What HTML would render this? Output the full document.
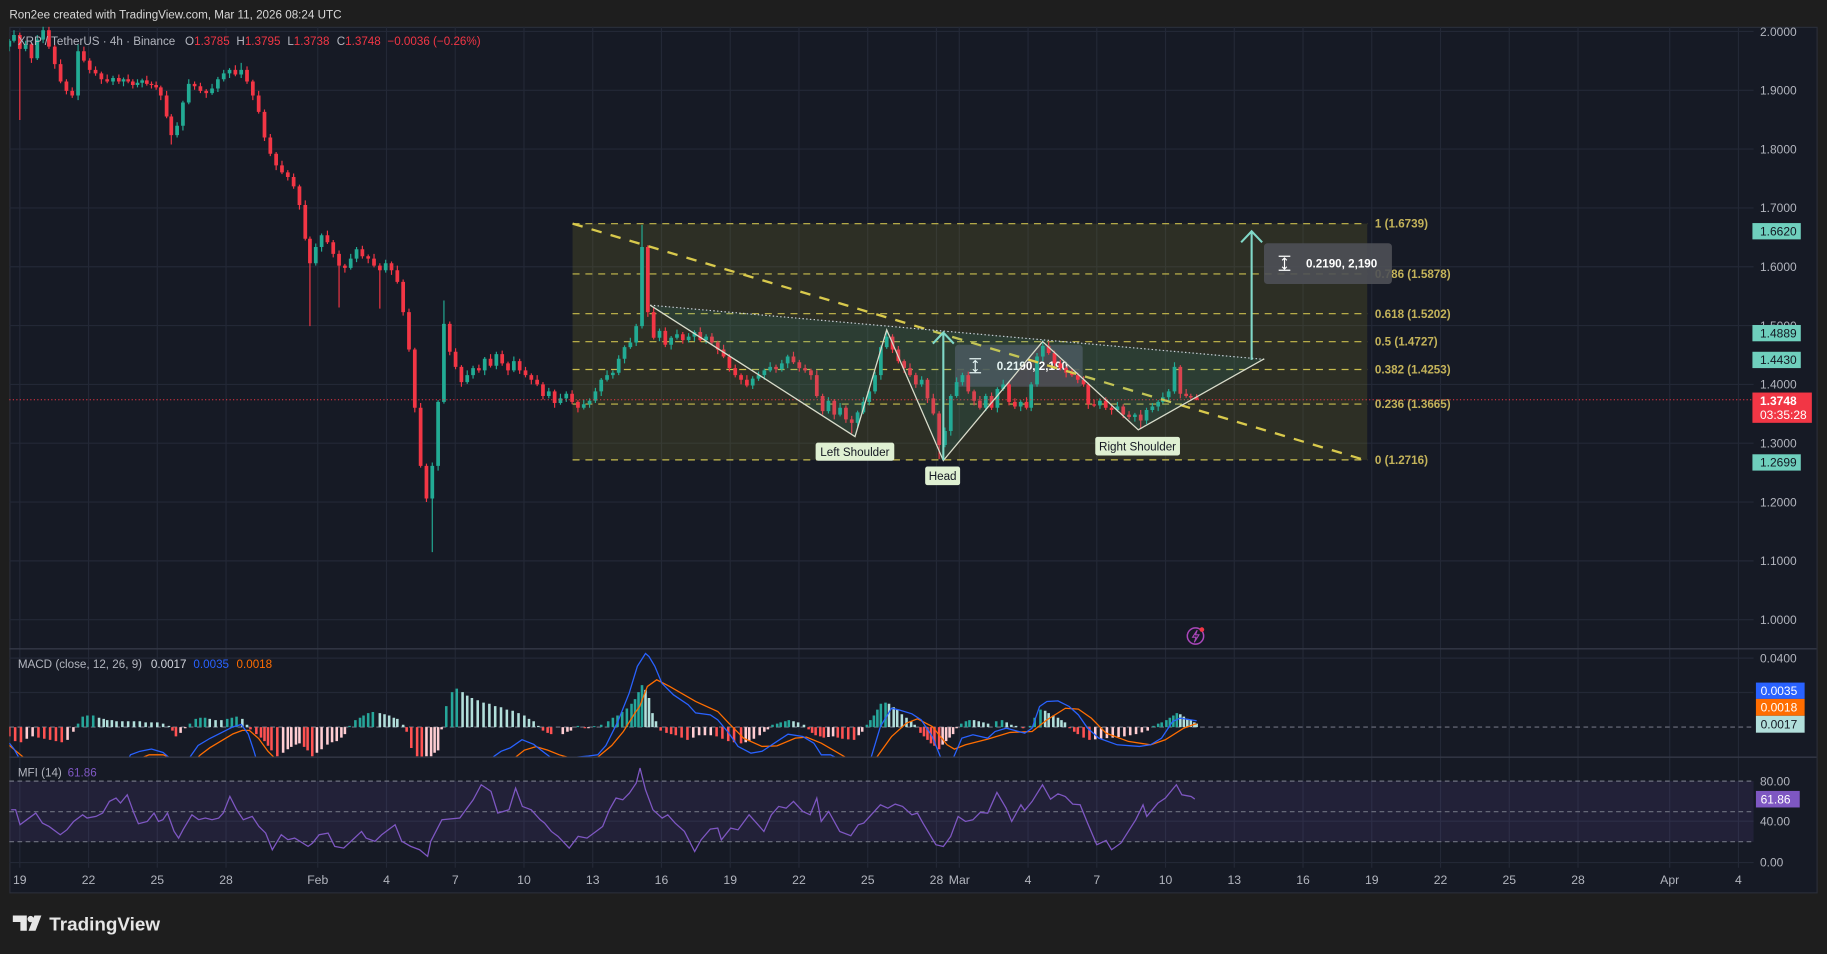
<!DOCTYPE html>
<html><head><meta charset="utf-8"><style>
html,body{margin:0;padding:0;background:#1e1e1e;overflow:hidden;width:1827px;height:954px}
svg{display:block}
text{font-family:"Liberation Sans",Arial,sans-serif}
</style></head><body>
<svg xmlns="http://www.w3.org/2000/svg" width="1827" height="954" viewBox="0 0 1568 819" preserveAspectRatio="none">
<defs>
<clipPath id="cm"><rect x="8" y="23" width="1497" height="534"/></clipPath>
<clipPath id="cd"><rect x="8" y="557.5" width="1497" height="92"/></clipPath>
<clipPath id="cf"><rect x="8" y="650.5" width="1497" height="95"/></clipPath>
</defs>
<rect width="1568" height="819" fill="#1e1e1e"/>
<text x="8" y="15.7" font-size="10" fill="#d8d8d8">Ron2ee created with TradingView.com, Mar 11, 2026 08:24 UTC</text>
<rect x="8.5" y="23.5" width="1551" height="743" fill="#161a25" stroke="#2a2e39"/>
<!-- grid -->
<path stroke="#232836" stroke-width="1" fill="none" d="M8 27H1505M8 77.5H1505M8 128H1505M8 178.5H1505M8 229H1505M8 279.5H1505M8 330H1505M8 380.5H1505M8 431H1505M8 481.5H1505M8 532H1505M8 565H1505M8 594.5H1505M8 705H1505M8 740.5H1505
M17 23V745M76 23V745M135 23V745M194 23V745M272.7 23V745M331.7 23V745M390.7 23V745M449.7 23V745M508.7 23V745M567.7 23V745M626.7 23V745M685.7 23V745M744.7 23V745M803.7 23V745M823.3 23V745M882.3 23V745M941.3 23V745M1000.3 23V745M1059.3 23V745M1118.3 23V745M1177.3 23V745M1236.3 23V745M1295.3 23V745M1354.3 23V745M1433 23V745M1492 23V745"/>
<!-- MFI band -->
<rect x="8" y="670.6" width="1497" height="52" fill="rgba(126,87,194,0.12)"/>
<g stroke="#6f7280" stroke-width="1" stroke-dasharray="4 3">
<line x1="8" x2="1505" y1="670.6" y2="670.6"/>
<line x1="8" x2="1505" y1="696.8" y2="696.8"/>
<line x1="8" x2="1505" y1="722.6" y2="722.6"/>
<line x1="8" x2="1505" y1="624.2" y2="624.2"/>
</g>
<line x1="8" x2="1559" y1="557" y2="557" stroke="#343846" stroke-width="1.2"/>
<line x1="8" x2="1559" y1="650" y2="650" stroke="#343846" stroke-width="1.2"/>

<!-- Fib box -->
<rect x="491.4" y="192" width="682" height="202.8" fill="rgba(150,145,40,0.18)"/>
<g stroke="#c9bd4e" stroke-width="1" stroke-dasharray="6 5">
<line x1="491.4" x2="1173.5" y1="192" y2="192"/>
<line x1="491.4" x2="1173.5" y1="235.2" y2="235.2"/>
<line x1="491.4" x2="1173.5" y1="269.3" y2="269.3"/>
<line x1="491.4" x2="1173.5" y1="293.3" y2="293.3"/>
<line x1="491.4" x2="1173.5" y1="317.2" y2="317.2"/>
<line x1="491.4" x2="1173.5" y1="346.9" y2="346.9"/>
<line x1="491.4" x2="1173.5" y1="394.8" y2="394.8"/>
</g>
<g font-size="10" font-weight="bold" fill="#c4b35a">
<text x="1180" y="195.5">1 (1.6739)</text>
<text x="1180" y="238.7">0.786 (1.5878)</text>
<text x="1180" y="272.8">0.618 (1.5202)</text>
<text x="1180" y="296.8">0.5 (1.4727)</text>
<text x="1180" y="320.7">0.382 (1.4253)</text>
<text x="1180" y="350.4">0.236 (1.3665)</text>
<text x="1180" y="398.3">0 (1.2716)</text>
</g>
<!-- tooltips -->
<rect x="819.6" y="296" width="109.6" height="36" rx="3" fill="rgba(78,80,86,0.88)"/>
<rect x="1084.8" y="208.8" width="109.8" height="35" rx="3" fill="rgba(78,80,86,0.9)"/>
<g stroke="#ffffff" stroke-width="1" fill="none">
<path d="M832 308h10M832 320h10M837 309.5v9.5M835 311.5l2-2 2 2M835 317l2 2 2-2"/>
<path d="M1097.4 220h10M1097.4 232h10M1102.4 221.5v9.5M1100.4 223.5l2-2 2 2M1100.4 229l2 2 2-2"/>
</g>
<text x="855.4" y="317.5" font-size="10" font-weight="bold" fill="#ffffff">0.2190, 2,190</text>
<text x="1120.9" y="229.5" font-size="10" font-weight="bold" fill="#ffffff">0.2190, 2,190</text>

<!-- candles -->
<g clip-path="url(#cm)" fill="none">
<path stroke="#22ab94" stroke-width="1" d="M8 33.5V44M12 26V36.5M22 35V44M32 30V51.5M37 22V37M67 38V86M97 65V73M106 66.5V74M118 68V75M122 67.5V75M152 105V118M157 86.5V112M162 68V89.5M182 72V81.5M187 66V79M192 60V70M197 58.5V67M207 54V67M271 209V228M276 200.5V216M301 218V231.5M306 212V225M331 223V234M371 397V474M376 343.5V404M381 258V346.5M401 318V329.5M406 314V325M416 306.5V322M426 302V317M441 306V319.5M471 333V342M481 338V347.5M486 336V345M501 343V351.5M506 342V350M511 333V346M516 324.5V340M521 318V327.5M526 318V325M531 305V322M536 296.5V312M541 290V299.5M546 278V297M551 193V282M566 282V293M576 288.5V300M581 283V291.5M591 286V294M596 283.5V293M606 287V295M646 323V334M651 319V327M656 316.5V326M661 311V319.5M671 309V319M676 304.5V316M711 341V355M721 346V357.5M736 352.5V367M741 341V355.5M746 334V348M751 319V338M756 296.5V326M761 283V299.5M791 323V332M811 367V384M816 338.5V374M821 324V341.5M826 320V331M846 338V353M856 332.5V354M861 326V335.5M876 343.5V353M885 328V353M890 303V332M895 292V310M944 342V351M959 345V353.5M974 354.5V362M984 350V364M989 346V354M994 343.5V353M998 337V346.5M1003 334V344M1008 311V338"/>
<path stroke="#22ab94" stroke-width="3.2" d="M8 35V40M12 30V35M22 38V42M32 34V50M37 26V34M67 44V82M97 67V70M106 68V70M118 71V73M122 69V71M152 108V116M157 88V108M162 72V88M182 76V80M187 68V76M192 63V68M197 60V63M207 60V64M271 212V226M276 202V212M301 222V230M306 214V222M331 226V232M371 400V428M376 345V400M381 278V345M401 322V328M406 316V322M416 308V318M426 304V314M441 310V318M471 336V340M481 342V346M486 338V342M501 347V350M506 344V347M511 336V344M516 326V336M521 322V326M526 320V322M531 308V320M536 298V308M541 294V298M546 280V294M551 212V280M566 284V290M576 290V296M581 287V290M591 289V292M596 285V289M606 289V292M646 325V331M651 322V325M656 318V322M661 315V318M671 312V317M676 306V312M711 344V353M721 350V356M736 354V363M741 345V354M746 336V345M751 322V336M756 298V322M761 289V298M791 326V330M811 370V382M816 340V370M821 328V340M826 322V328M846 340V350M856 334V350M861 330V334M876 345V349M885 330V350M890 306V330M895 297V306M944 344V348M959 349V352M974 356V358M984 352V361M989 349V352M994 345V349M998 341V345M1003 336V341M1008 315V336"/>
<path stroke="#f23645" stroke-width="1" d="M17 28V103M27 36.5V54M42 23V42M47 38.5V59M52 51V71.5M57 68V81M62 75V84M72 40V53.5M77 50V63M82 57V65M87 61.5V72M92 64V71.5M102 64V72M110 64V71.5M114 68V76M126 65V73.5M130 70V76M134 70V77M138 73.5V86M143 78V101.5M147 98V124M167 70V77M172 71V80M177 76.5V84M202 56V65.5M212 57V72M217 68.5V86M222 78V97.5M227 94V121M232 115V134M237 130.5V146M242 138V149.5M247 146V155M252 149V162M257 158.5V180M262 172V206.5M266 203V280M281 198V209.5M286 206V221M291 215V264M296 226.5V234M311 211V222M316 218.5V226M321 218V229.5M326 226V265M336 224.5V236M341 228V243.5M346 240V271M351 265V302M356 298.5V354M361 346V401.5M366 398V431M386 276V305M391 299V317M396 313.5V332M411 313V320M421 304V315.5M431 301V314M436 310.5V322M446 308V321M451 315V324M456 320.5V330M461 322V331.5M466 328V343M476 334.5V350M491 335V347M496 343.5V354M556 210.5V272M561 264V291.5M571 281V298M586 285V295M601 281V293.5M611 286V296M616 292.5V304M621 296V307.5M626 304V319M631 313V324M636 320.5V330M641 322V332.5M666 313V320M681 302V312.5M686 309V319M691 313V320M696 316.5V326M701 318V341.5M706 338V356M716 342.5V360M726 348V363M731 357V372M766 287V303M771 297V312M776 308.5V320M781 312V323.5M786 320V333M796 324.5V346M801 338V356.5M806 353V394M831 319V338M836 334.5V348M841 340V351.5M851 337V352M866 328V348M871 342V351M881 341V351.5M900 293V304.5M905 301V315M910 309V318M915 314.5V324M920 316V323.5M925 320V329M930 323V332M934 328.5V351M939 343V349.5M949 341V352M954 348.5V356M964 347V359M969 353V360M979 352V368M1013 313.5V342M1018 334V341.5M1022 338V344M1027 338.5V343.6"/>
<path stroke="#f23645" stroke-width="3.2" d="M17 30V42M27 38V50M42 26V40M47 40V55M52 55V70M57 70V78M62 78V82M72 44V52M77 52V60M82 60V63M87 63V68M92 68V70M102 67V70M110 68V70M114 70V73M126 69V72M130 72V73M134 73V75M138 75V82M143 82V100M147 100V116M167 72V74M172 74V78M177 78V80M202 60V64M212 60V70M217 70V82M222 82V96M227 96V118M232 118V132M237 132V142M242 142V148M247 148V152M252 152V160M257 160V176M262 176V205M266 205V226M281 202V208M286 208V218M291 218V228M296 228V230M311 214V220M316 220V222M321 222V228M326 228V232M336 226V232M341 232V242M346 242V268M351 268V300M356 300V350M361 350V400M366 400V428M386 278V302M391 302V315M396 315V328M411 316V318M421 308V314M431 304V312M436 312V318M446 310V318M451 318V322M456 322V326M461 326V330M466 330V340M476 336V346M491 338V345M496 345V350M556 212V268M561 268V290M571 284V296M586 287V292M601 285V292M611 289V294M616 294V300M621 300V306M626 306V316M631 316V322M636 322V326M641 326V331M666 315V317M681 306V311M686 311V316M691 316V318M696 318V322M701 322V340M706 340V353M716 344V356M726 350V360M731 360V363M766 289V300M771 300V310M776 310V316M781 316V322M786 322V330M796 326V342M801 342V355M806 355V382M831 322V336M836 336V344M841 344V350M851 340V350M866 330V345M871 345V349M881 345V350M900 297V303M905 303V312M910 312V316M915 316V320M920 320V322M925 322V326M930 326V330M934 330V347M939 347V348.2M949 344V350M954 350V352M964 349V356M969 356V358M979 356V361M1013 315V338M1018 338V340M1022 340V341.2M1027 340.9V343"/>
</g>

<!-- current price line -->
<line x1="8" x2="1505" y1="343.2" y2="343.2" stroke="#f23645" stroke-width="0.8" stroke-dasharray="1 2"/>
<!-- trend line -->
<line x1="491.4" y1="192" x2="1170" y2="394.5" stroke="#d8c94c" stroke-width="2" stroke-dasharray="9 8"/>
<!-- pattern -->
<polygon points="558,262 733.8,374.8 761,283.2 809.6,395.4 894.8,293.2 976.9,369 1085,308" fill="rgba(38,166,154,0.12)"/>
<line x1="558" y1="262" x2="1085" y2="308.5" stroke="#cfd3dc" stroke-width="1" stroke-dasharray="1.2 2"/>
<polyline points="558,262 733.8,374.8 761,283.2 809.6,395.4 894.8,293.2 976.9,369 1085,308" fill="none" stroke="#d9dccb" stroke-width="1.1"/>
<!-- arrows -->
<g stroke="#80d8c8" stroke-width="1.8" fill="none">
<path d="M809.6 395V286M800.6 295l9-9.5 9 9.5"/>
<path d="M1074.2 309V198.5M1065.2 208l9-9.5 9 9.5"/>
</g>
<!-- labels -->
<rect x="700" y="380" width="67.5" height="15.5" rx="2" fill="#dff0d2"/>
<text x="733.7" y="391.3" font-size="10" text-anchor="middle" fill="#131722">Left Shoulder</text>
<rect x="794" y="400.5" width="30" height="16" rx="2" fill="#dff0d2"/>
<text x="809" y="412" font-size="10" text-anchor="middle" fill="#131722">Head</text>
<rect x="940" y="375" width="72.7" height="16" rx="2" fill="#dff0d2"/>
<text x="976.3" y="386.6" font-size="10" text-anchor="middle" fill="#131722">Right Shoulder</text>

<!-- header -->
<g font-size="10">
<text x="15.3" y="38.5" fill="#b2b5be">XRP / TetherUS · 4h · Binance</text>
<text x="158.8" y="38.5" fill="#b2b5be">O<tspan fill="#f23645">1.3785</tspan></text>
<text x="202.9" y="38.5" fill="#b2b5be">H<tspan fill="#f23645">1.3795</tspan></text>
<text x="246.6" y="38.5" fill="#b2b5be">L<tspan fill="#f23645">1.3738</tspan></text>
<text x="289" y="38.5" fill="#b2b5be">C<tspan fill="#f23645">1.3748</tspan></text>
<text x="332.5" y="38.5" fill="#f23645">−0.0036 (−0.26%)</text>
</g>

<!-- lightning icon -->
<circle cx="1026" cy="546" r="7" fill="none" stroke="#ab47bc" stroke-width="1.3"/>
<path d="M1027.5 541L1023.5 547H1026.5L1025 551.5L1029 545H1026Z" fill="none" stroke="#ab47bc" stroke-width="0.9"/>
<circle cx="1031.5" cy="540.5" r="2" fill="#f23645"/>

<!-- MACD histogram -->
<g clip-path="url(#cd)" fill="none" stroke-width="2.2">
<path stroke="#26a69a" d="M67 624.2V621.2M71 624.2V615.2M75 624.2V614.2M80 624.2V614.2M163 624.2V621.2M168 624.2V617.2M172 624.2V616.2M176 624.2V616.2M195 624.2V617.2M199 624.2V616.2M203 624.2V615.2M300 624.2V623.2M305 624.2V618.2M309 624.2V616.2M312 624.2V614.2M316 624.2V612.2M320 624.2V611.2M383 624.2V606.2M388 624.2V594.2M392 624.2V591.2M496 624.2V623.2M510 624.2V623.4M516 624.2V622.2M522 624.2V619.2M526 624.2V616.2M530 624.2V614.2M534 624.2V611.2M538 624.2V608.2M542 624.2V604.2M545 624.2V600.2M548 624.2V594.2M551 624.2V588.2M663 624.2V622.2M667 624.2V621.2M670 624.2V620.2M674 624.2V619.2M677 624.2V618.2M744 624.2V622.2M747 624.2V618.2M750 624.2V614.2M753 624.2V609.2M756 624.2V604.2M760 624.2V603.2M825 624.2V621.2M829 624.2V619.2M832 624.2V618.2M855 624.2V619.2M860 624.2V618.2M884 624.2V623.2M888 624.2V616.2M893 624.2V609.2M990 624.2V623.2M994 624.2V621.2M997 624.2V620.2M1001 624.2V618.2M1004 624.2V616.2M1007 624.2V614.2M1010 624.2V612.2"/>
<path stroke="#b2dfdb" d="M85 624.2V616.2M89 624.2V617.2M92 624.2V618.2M96 624.2V618.2M100 624.2V619.2M105 624.2V619.2M110 624.2V619.2M115 624.2V619.2M120 624.2V619.2M125 624.2V620.2M130 624.2V620.2M135 624.2V620.2M140 624.2V621.2M145 624.2V623.2M180 624.2V617.2M185 624.2V618.2M190 624.2V618.2M208 624.2V617.2M212 624.2V622.2M326 624.2V612.2M330 624.2V613.2M334 624.2V614.2M338 624.2V616.2M341 624.2V617.2M346 624.2V622.2M397 624.2V594.2M401 624.2V597.2M405 624.2V599.2M410 624.2V601.2M415 624.2V603.2M420 624.2V604.2M425 624.2V606.2M430 624.2V607.2M435 624.2V609.2M440 624.2V610.2M445 624.2V612.2M450 624.2V614.2M454 624.2V617.2M458 624.2V619.2M462 624.2V623.2M554 624.2V592.2M557 624.2V599.2M560 624.2V612.2M563 624.2V619.2M681 624.2V619.2M685 624.2V620.2M690 624.2V622.2M763 624.2V604.2M767 624.2V607.2M770 624.2V609.2M774 624.2V613.2M778 624.2V616.2M782 624.2V619.2M785 624.2V622.2M836 624.2V618.2M840 624.2V619.2M844 624.2V620.2M848 624.2V621.2M864 624.2V620.2M868 624.2V622.2M872 624.2V623.2M897 624.2V610.2M900 624.2V612.2M904 624.2V614.2M908 624.2V616.2M911 624.2V618.2M914 624.2V620.2M1013 624.2V613.2M1016 624.2V615.2M1019 624.2V617.2M1022 624.2V618.2M1025 624.2V620.2M1027 624.2V621.2"/>
<path stroke="#ff5252" d="M8 624.2V632.2M13 624.2V636.2M18 624.2V637.2M33 624.2V633.2M38 624.2V634.2M43 624.2V635.2M48 624.2V636.2M53 624.2V637.2M148 624.2V627.2M151 624.2V632.2M215 624.2V626.2M220 624.2V630.2M224 624.2V633.2M227 624.2V636.2M230 624.2V640.2M233 624.2V644.2M238 624.2V649.2M261 624.2V641.2M264 624.2V644.2M268 624.2V649.2M349 624.2V628.2M353 624.2V642.2M358 624.2V649.2M362 624.2V650M466 624.2V627.2M470 624.2V629.2M473 624.2V630.2M502 624.2V625.2M567 624.2V627.2M572 624.2V629.2M576 624.2V630.2M580 624.2V631.2M585 624.2V633.2M590 624.2V635.2M615 624.2V632.2M620 624.2V634.2M625 624.2V636.2M630 624.2V637.2M636 624.2V638.2M694 624.2V626.2M697 624.2V629.2M700 624.2V631.2M704 624.2V632.2M707 624.2V633.2M719 624.2V633.2M723 624.2V634.2M728 624.2V634.7M733 624.2V635.2M790 624.2V629.2M793 624.2V632.2M796 624.2V635.2M799 624.2V638.2M802 624.2V640.2M806 624.2V643.2M878 624.2V625.2M918 624.2V625.2M922 624.2V628.2M925 624.2V630.2M930 624.2V633.2M935 624.2V635.2"/>
<path stroke="#ffcdd2" d="M23 624.2V634.2M28 624.2V632.2M58 624.2V635.2M63 624.2V628.2M155 624.2V629.2M159 624.2V625.2M243 624.2V646.2M247 624.2V643.2M250 624.2V641.2M254 624.2V639.2M257 624.2V638.2M272 624.2V646.2M276 624.2V643.2M281 624.2V639.2M285 624.2V637.2M289 624.2V636.2M293 624.2V633.2M296 624.2V630.2M366 624.2V649.2M370 624.2V649.2M373 624.2V646.2M376 624.2V644.2M379 624.2V626.2M483 624.2V630.2M487 624.2V628.2M490 624.2V627.2M505 624.2V625.2M595 624.2V633.2M600 624.2V631.2M605 624.2V631.2M610 624.2V631.2M640 624.2V637.2M643 624.2V636.2M647 624.2V634.2M652 624.2V631.2M656 624.2V628.2M659 624.2V626.2M711 624.2V632.7M715 624.2V632.2M737 624.2V631.2M740 624.2V628.2M809 624.2V639.2M812 624.2V636.2M815 624.2V633.2M818 624.2V630.2M821 624.2V625.2M940 624.2V634.7M945 624.2V634.2M950 624.2V633.7M955 624.2V633.2M960 624.2V632.7M965 624.2V632.2M970 624.2V631.2M975 624.2V630.2M980 624.2V628.7M985 624.2V627.2"/>
</g>
<!-- MACD lines -->
<g clip-path="url(#cd)" fill="none" stroke-width="1.1">
<polyline stroke="#ff6d00" points="8,640 14,645 20,650 26,662 112,662 118,652 128,648 140,648 150,652 158,658 165,655 172,648 180,642 190,636 200,630 208,627 214,627 222,634 230,645 237,652 242,662 436,662 440,652 450,644 460,641 470,644 480,648 487,650 513,650 525,640 535,628 545,612 549,606.5 555.6,589.3 563.6,583.6 574.7,589.3 597,602.2 616,610.8 625.5,620.8 638.2,633.7 654,640.8 666.8,640.3 682.6,633.7 692.2,632.8 704.9,638 725.5,650 740,654 752.5,650 765.2,632.3 777.9,620.8 787.4,617.1 800.1,623.7 812.8,639.4 819.1,643.1 828.7,639.4 847.7,634.5 866.8,628.8 885.8,628 898.5,618 914.4,608 925.5,608.8 936.6,616.5 949.3,629.4 968.4,636.5 987.4,639.4 1000.1,635.1 1016,625.1 1025.5,621.7 1027,621.5"/>
<polyline stroke="#2962ff" points="8,638 12,643 16,650 22,662 105,662 112,648 120,645 130,643 140,646 147,652 153,662 158,662 163,650 170,640 180,634 190,629 200,624 207,622 213,630 218,645 223,662 418,662 423,650 430,645 438,642 448,635 458,639 467,646 475,652 485,650 495,650 505,649 513,648 520,640 530,620 540,595 547,572 554,561 557,563.6 562,572 568,586.5 578,596.5 590.6,605 597,612 609.6,613.7 616,618 625.5,629.4 633.4,640.8 644.5,646.6 654,645 666.8,636.5 676.3,630.3 689,632.3 698.5,638 704.9,648 712.8,648 720.7,652 735,656 747.7,650 755.6,623.7 765.2,608 771.5,609.4 782.6,612.8 790.6,618 800.1,632.3 808,652 817.6,652 825.5,633.7 835,630.8 847.7,633.7 854,628 863.6,625.1 879.5,629.4 885.8,625.1 892.2,606.5 898.5,602.2 908,601.7 917.6,606.5 925.5,613.7 933.4,625.1 943,633.7 958.8,639.4 977.9,640.8 987.4,639.4 996.9,633.7 1006.4,619.4 1012.8,616.5 1025.5,618.5 1027,618.8"/>
</g>
<g font-size="10">
<text x="15.3" y="573.5" fill="#b2b5be">MACD (close, 12, 26, 9)</text>
<text x="129.5" y="573.5" fill="#d1d4dc">0.0017</text>
<text x="166" y="573.5" fill="#2962ff">0.0035</text>
<text x="203" y="573.5" fill="#ff6d00">0.0018</text>
</g>
<!-- MFI -->
<g clip-path="url(#cf)">
<polyline fill="none" stroke="#7e57c2" stroke-width="1.1" points="9.6,695.2 13.4,695.2 17.2,708 23,703.7 30.7,698 36.4,706.6 42.1,709.5 51.7,716.6 57.5,712.3 63.2,705.2 70.9,699.5 74.7,702.3 82.4,700.9 88.1,698 93.9,688 99.6,685.1 103.4,689.4 109.2,682.3 114.9,698 118.8,707.2 126.4,705.2 132.2,698 136,705.2 139.8,703.7 143.7,698 149.4,713.7 153.3,719.5 157.1,712.3 164.7,699.5 170.5,703.7 176.2,702.3 182,703.7 187.7,702.3 191.6,698 197.3,683.7 203.1,695.2 208.8,703.7 216.5,700.9 222.2,709.5 228,715.2 233.7,729.5 241.4,716.6 247.1,720.9 252.9,719.5 264.4,726.6 268.2,723.8 273.9,716.6 281.6,715.2 287.3,726.6 295,728.1 302.7,720.9 310.3,713.8 314.2,719.5 321.8,722.3 327.6,716.6 333.3,712.3 339.1,708 344.8,722.3 352.5,726.6 360.1,729.5 367,735.2 369.7,722.3 379.3,703.7 394.6,702.3 406.1,686.6 413,673.7 421.4,679.4 427.2,698 436.8,695.2 442.5,676.6 448.3,692.3 455.9,695.2 463.6,703.7 467.4,706.6 473.2,713.8 478.9,718 488.5,728.1 496.2,718 503.8,719.5 511.5,713.8 517.2,709.5 523,695.2 528.7,685.1 534.5,686.6 540.2,680.9 546,672.3 549.3,659.4 554,678 560.4,695.2 568.3,702.3 573.1,699.5 579.4,706.6 587.4,713.8 596.2,731 601.7,721 609.6,711.8 616,710.9 619.1,721 627.1,710.9 633.4,712.4 642.9,699.5 649.3,706.6 655.6,713.8 662,699.5 668.3,692.3 674.7,693.8 681,688 689,696.6 695.3,699.5 701,685.2 704.8,705.2 711.2,696.6 720.7,713.8 730.2,717.5 736.6,708.1 741.3,706.6 747.7,699.5 755.6,690.9 762,693.8 768.3,690.3 774.6,692.3 782.6,699.5 787.4,698.1 792.1,706.6 803.2,725.2 809.6,726.7 815.9,718.1 822.3,700.9 828.6,705.2 835,703.8 841.3,697.5 847.7,698.1 855.6,680.3 863.5,693.8 868.3,705.2 876.2,690.9 879.4,695.8 885.8,688 894.7,673.7 901.6,686.1 908,681.5 914.3,683.8 920.7,690.3 927,690.9 933.4,706.6 941.3,725.2 949.3,721.5 954,729.5 962,723.8 974.7,703.8 981,690.9 984.2,700.9 993.7,689.5 1000.1,685.2 1009.6,673.7 1014.3,682.3 1019.1,683.2 1022.3,683.8 1025.4,686"/>
</g>
<g font-size="10">
<text x="15.3" y="666.6" fill="#b2b5be">MFI (14)</text>
<text x="58" y="666.6" fill="#7e57c2">61.86</text>
</g>

<!-- price axis labels -->
<g font-size="10.3" fill="#b2b5be">
<text x="1510.5" y="30.7">2.0000</text>
<text x="1510.5" y="81.2">1.9000</text>
<text x="1510.5" y="131.7">1.8000</text>
<text x="1510.5" y="182.2">1.7000</text>
<text x="1510.5" y="232.7">1.6000</text>
<text x="1510.5" y="283.2">1.5000</text>
<text x="1510.5" y="333.7">1.4000</text>
<text x="1510.5" y="384.2">1.3000</text>
<text x="1510.5" y="434.7">1.2000</text>
<text x="1510.5" y="485.2">1.1000</text>
<text x="1510.5" y="535.7">1.0000</text>
<text x="1510.5" y="568.7">0.0400</text>
<text x="1510.5" y="674.3">80.00</text>
<text x="1510.5" y="708.7">40.00</text>
<text x="1510.5" y="744">0.00</text>
</g>
<g font-size="10.3">
<rect x="1504" y="191.5" width="41.5" height="14" fill="#6fcfbd"/><text x="1510.5" y="202.2" fill="#131722">1.6620</text>
<rect x="1504" y="279" width="41.5" height="14" fill="#6fcfbd"/><text x="1510.5" y="289.7" fill="#131722">1.4889</text>
<rect x="1504" y="302" width="41.5" height="14" fill="#6fcfbd"/><text x="1510.5" y="312.7" fill="#131722">1.4430</text>
<rect x="1504" y="390" width="41.5" height="14" fill="#6fcfbd"/><text x="1510.5" y="400.7" fill="#131722">1.2699</text>
<rect x="1504" y="337" width="51" height="26" fill="#f23645"/>
<text x="1510.5" y="347.5" fill="#ffffff" font-weight="bold">1.3748</text>
<text x="1510.5" y="359.8" fill="#ffffff">03:35:28</text>
<rect x="1507" y="586" width="41.8" height="14" fill="#2962ff"/><text x="1511" y="596.7" fill="#ffffff">0.0035</text>
<rect x="1507" y="600" width="41.8" height="14.5" fill="#ff6d00"/><text x="1511" y="610.9" fill="#ffffff">0.0018</text>
<rect x="1507" y="614.5" width="41.8" height="14.5" fill="#b2dfdb"/><text x="1511" y="625.4" fill="#131722">0.0017</text>
<rect x="1507" y="679" width="37.6" height="14.2" fill="#7e57c2"/><text x="1511" y="689.8" fill="#ffffff">61.86</text>
</g>

<!-- time axis -->
<g font-size="10.5" fill="#b2b5be" text-anchor="middle">
<text x="17" y="759">19</text><text x="76" y="759">22</text><text x="135" y="759">25</text><text x="194" y="759">28</text>
<text x="272.7" y="759">Feb</text><text x="331.7" y="759">4</text><text x="390.7" y="759">7</text><text x="449.7" y="759">10</text>
<text x="508.7" y="759">13</text><text x="567.7" y="759">16</text><text x="626.7" y="759">19</text><text x="685.7" y="759">22</text>
<text x="744.7" y="759">25</text><text x="803.7" y="759">28</text><text x="823.3" y="759">Mar</text><text x="882.3" y="759">4</text>
<text x="941.3" y="759">7</text><text x="1000.3" y="759">10</text><text x="1059.3" y="759">13</text><text x="1118.3" y="759">16</text>
<text x="1177.3" y="759">19</text><text x="1236.3" y="759">22</text><text x="1295.3" y="759">25</text><text x="1354.3" y="759">28</text>
<text x="1433" y="759">Apr</text><text x="1492" y="759">4</text>
</g>

<!-- logo -->
<g fill="#e6e6e6">
<path d="M11 786H23V799H17.5V791.5H11Z"/>
<circle cx="26.3" cy="789" r="2.7"/>
<path d="M29.5 786H35.5L30.5 799H24.5Z"/>
<text x="42.3" y="798.8" font-size="16.2" font-weight="bold">TradingView</text>
</g>
</svg>
</body></html>
